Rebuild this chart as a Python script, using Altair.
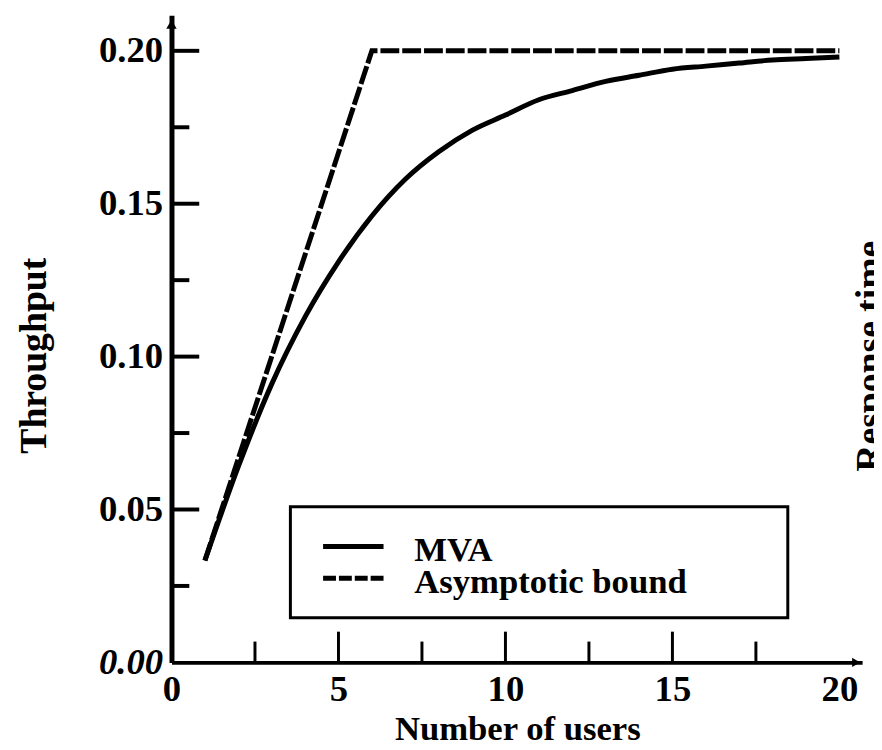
import altair as alt
import pandas as pd

# ---------------- data ----------------
users = list(range(1, 21))
mva_throughput = [0.0333, 0.064, 0.091, 0.113, 0.131, 0.146, 0.158, 0.167, 0.174, 0.179,
                  0.184, 0.187, 0.190, 0.192, 0.194, 0.195, 0.196, 0.197, 0.1975, 0.198]
bound_users = [1, 6, 20]
bound_throughput = [0.0333, 0.20, 0.20]

series_names = ["MVA", "Asymptotic bound"]
x_tick_labels = [0, 5, 10, 15, 20]
y_tick_labels = [0.00, 0.05, 0.10, 0.15, 0.20]
x_major_ticks = [5, 10, 15]
x_minor_ticks = [2.5, 7.5, 12.5, 17.5]
y_major_ticks = [0.05, 0.10, 0.15, 0.20]
y_minor_ticks = [0.025, 0.075, 0.125, 0.175]
x_title = "Number of users"
y_title = "Throughput"
right_title = "Response time"

# ---------------- styling ----------------
FONT = "Liberation Serif"
W, H = 697, 653
x_scale = alt.Scale(domain=[0, 20.68], nice=False, zero=False)
y_scale = alt.Scale(domain=[0, 0.2116], nice=False, zero=False)

x_axis = alt.Axis(values=x_tick_labels, title=x_title, grid=False, ticks=False, tickSize=0,
                  domainColor="black", domainWidth=4, labelFlush=False, labelOverlap=False,
                  labelFont=FONT, labelFontSize=37, labelFontWeight="bold", labelColor="black",
                  labelPadding=9, labelBaseline="top",
                  titleFont=FONT, titleFontSize=35, titleFontWeight="bold", titleColor="black",
                  titleX=349, titleY=78, titleBaseline="alphabetic", titleAlign="center")
y_axis = alt.Axis(values=y_tick_labels, format=".2f", title=y_title, grid=False, ticks=False, tickSize=0,
                  domainColor="black", domainWidth=5, labelOverlap=False,
                  labelFont=FONT, labelFontSize=37, labelFontWeight="bold", labelColor="black",
                  labelFontStyle={"condition": {"test": "datum.value === 0", "value": "italic"}, "value": "normal"},
                  labelPadding=9,
                  titleFont=FONT, titleFontSize=38, titleFontWeight="bold", titleColor="black",
                  titleAngle=270, titleX=-127, titleY=343, titleBaseline="alphabetic", titleAlign="center")

df_mva = pd.DataFrame({"users": users, "throughput": mva_throughput})
df_bound = pd.DataFrame({"users": bound_users, "throughput": bound_throughput})


def X(field):
    return alt.X(field, scale=x_scale, axis=x_axis)


def Y(field):
    return alt.Y(field, scale=y_scale, axis=y_axis)


mva_line = alt.Chart(df_mva).mark_line(color="black", strokeWidth=5, interpolate="monotone").encode(
    x=X("users:Q"), y=Y("throughput:Q"))
bound_line = alt.Chart(df_bound).mark_line(color="black", strokeWidth=5, strokeDash=[19, 3]).encode(
    x=X("users:Q"), y=Y("throughput:Q"))

# inward tick marks
y_major = alt.Chart(pd.DataFrame({"throughput": y_major_ticks})).mark_rule(color="black", strokeWidth=4).encode(
    y=Y("throughput:Q"), x=alt.value(0), x2=alt.value(28))
y_minor = alt.Chart(pd.DataFrame({"throughput": y_minor_ticks})).mark_rule(color="black", strokeWidth=4).encode(
    y=Y("throughput:Q"), x=alt.value(0), x2=alt.value(18))
x_major = alt.Chart(pd.DataFrame({"users": x_major_ticks})).mark_rule(color="black", strokeWidth=3).encode(
    x=X("users:Q"), y=alt.value(H), y2=alt.value(H - 31))
x_minor = alt.Chart(pd.DataFrame({"users": x_minor_ticks})).mark_rule(color="black", strokeWidth=3).encode(
    x=X("users:Q"), y=alt.value(H), y2=alt.value(H - 21))

# axis arrowheads
arrow_up = alt.Chart(pd.DataFrame({"a": [0]})).mark_point(shape="triangle-up", filled=True, size=110,
                                                          color="black", opacity=1).encode(
    x=alt.value(0), y=alt.value(9))
arrow_right = alt.Chart(pd.DataFrame({"a": [0]})).mark_point(shape="triangle-right", filled=True, size=90,
                                                             color="black", opacity=1).encode(
    x=alt.value(W - 6), y=alt.value(H))

# legend box
legend_box = alt.Chart(pd.DataFrame({"a": [0]})).mark_rect(fill="white", stroke="black", strokeWidth=3).encode(
    x=alt.value(120), x2=alt.value(622), y=alt.value(496), y2=alt.value(608))
leg_solid = alt.Chart(pd.DataFrame({"a": [0]})).mark_rule(color="black", strokeWidth=5).encode(
    x=alt.value(153), x2=alt.value(214), y=alt.value(536))
leg_dash = alt.Chart(pd.DataFrame({"a": [0]})).mark_rule(color="black", strokeWidth=5, strokeDash=[13, 3]).encode(
    x=alt.value(153), x2=alt.value(214), y=alt.value(568))
leg_text1 = alt.Chart(pd.DataFrame({"t": [series_names[0]]})).mark_text(
    font=FONT, fontSize=35, fontWeight="bold", color="black", align="left", baseline="alphabetic").encode(
    text="t:N", x=alt.value(245), y=alt.value(551))
leg_text2 = alt.Chart(pd.DataFrame({"t": [series_names[1]]})).mark_text(
    font=FONT, fontSize=35, fontWeight="bold", color="black", align="left", baseline="alphabetic").encode(
    text="t:N", x=alt.value(245), y=alt.value(583))

# partially visible right-hand title
right_text = alt.Chart(pd.DataFrame({"t": [right_title]})).mark_text(
    font=FONT, fontSize=38, fontWeight="bold", color="black", angle=270, align="center",
    baseline="alphabetic").encode(text="t:N", x=alt.value(717), y=alt.value(344))

chart = alt.layer(
    mva_line, bound_line, y_major, y_minor, x_major, x_minor, arrow_up, arrow_right,
    legend_box, leg_solid, leg_dash, leg_text1, leg_text2, right_text,
).properties(
    width=W, height=H,
    padding={"left": 165, "top": 4, "right": 12, "bottom": 85},
    autosize=alt.AutoSizeParams(type="none"),
    background="white",
).configure_view(stroke=None)

chart.save("out.html", embed_options={"renderer": "svg", "actions": False})
